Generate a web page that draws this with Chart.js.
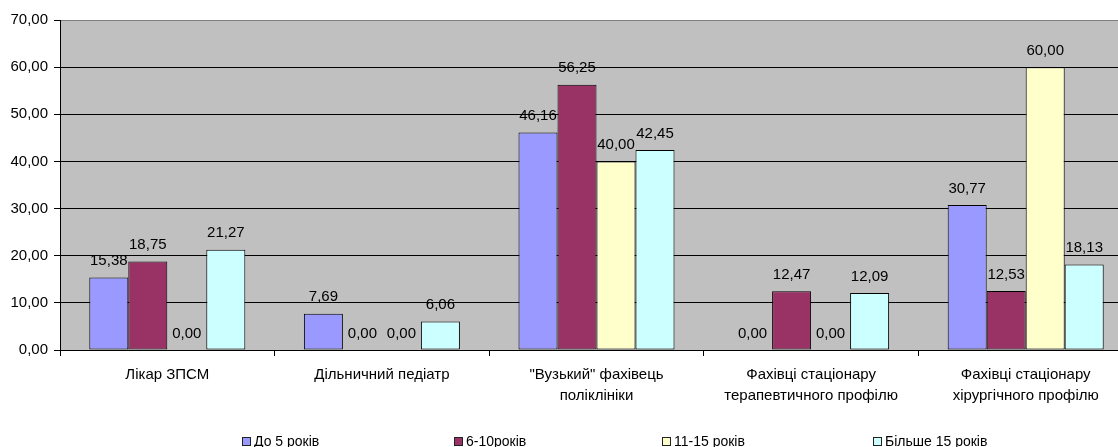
<!DOCTYPE html>
<html>
<head>
<meta charset="utf-8">
<script src="https://cdn.jsdelivr.net/npm/chart.js@4"></script>
<style>
  html, body { margin: 0; padding: 0; background: #fff; overflow: hidden; }
  #wrap { position: relative; width: 1118px; height: 447px; overflow: hidden; }
  #chart { position: absolute; left: 0; top: 0; }
  .lg { position: absolute; top: 433px; font: 14px "Liberation Sans", Arial, sans-serif; color: #000; white-space: nowrap; line-height: 16px; }
  .lg i { display: inline-block; width: 7px; height: 7px; border: 1px solid #222; margin-right: 3px; vertical-align: 0px; }
</style>
</head>
<body>
<div id="wrap">
  <canvas id="chart" width="1133" height="447"></canvas>
  <div id="legend"></div>
</div>
<script>
// Categories (multi-line labels as arrays)
const categories = [
  ['Лікар ЗПСМ'],
  ['Дільничний педіатр'],
  ['"Вузький" фахівець', 'поліклініки'],
  ['Фахівці стаціонару', 'терапевтичного профілю'],
  ['Фахівці стаціонару', 'хірургічного профілю']
];

const seriesNames = ['До 5 років', '6-10років', '11-15 років', 'Більше 15 років'];
const seriesColors = ['#9999FF', '#993366', '#FFFFCC', '#CCFFFF'];

const upTo5 = [15.38, 7.69, 46.16, 0.00, 30.77];
const y6to10 = [18.75, 0.00, 56.25, 12.47, 12.53];
const y11to15 = [0.00, 0.00, 40.00, 0.00, 60.00];
const over15 = [21.27, 6.06, 42.45, 12.09, 18.13];

const yTicks = [0, 10, 20, 30, 40, 50, 60, 70];

const seriesValues = [upTo5, y6to10, y11to15, over15];
const fmt = v => v.toFixed(2).replace('.', ',');
const FONT = '"Liberation Sans", Arial, sans-serif';

// Grey plot-area fill
const plotBackground = {
  id: 'plotBackground',
  beforeDraw(chart) {
    const { ctx, chartArea: a } = chart;
    ctx.save();
    ctx.fillStyle = '#C0C0C0';
    ctx.fillRect(a.left, a.top, a.right - a.left, a.bottom - a.top);
    ctx.restore();
  }
};

// Value labels above each bar
const valueLabels = {
  id: 'valueLabels',
  afterDatasetsDraw(chart) {
    const { ctx } = chart;
    ctx.save();
    ctx.font = '15px ' + FONT;
    ctx.fillStyle = '#000';
    ctx.textAlign = 'center';
    ctx.textBaseline = 'middle';
    chart.data.datasets.forEach((ds, di) => {
      chart.getDatasetMeta(di).data.forEach((bar, i) => {
        ctx.fillText(fmt(ds.data[i]), bar.x, bar.y - 16.5);
      });
    });
    ctx.restore();
  }
};

new Chart(document.getElementById('chart'), {
  type: 'bar',
  data: {
    labels: categories,
    datasets: seriesNames.map((name, i) => ({
      label: name,
      data: seriesValues[i],
      backgroundColor: seriesColors[i],
      borderColor: '#000',
      borderWidth: 1,
      borderSkipped: false,
      categoryPercentage: 0.727,
      barPercentage: 1.0
    }))
  },
  options: {
    responsive: false,
    animation: false,
    events: [],
    layout: { padding: { top: 20, right: 0, bottom: 0, left: 0 } },
    plugins: { legend: { display: false }, tooltip: { enabled: false } },
    scales: {
      x: {
        offset: true,
        afterFit(s) { s.height = 97; },
        grid: { offset: true, drawOnChartArea: false, drawTicks: true, tickLength: 6, color: '#000', tickColor: '#000' },
        border: { display: true, color: '#000', width: 1 },
        ticks: { color: '#000', padding: 8, font: { family: FONT, size: 15, lineHeight: 1.4 }, maxRotation: 0, autoSkip: false }
      },
      y: {
        min: yTicks[0],
        max: yTicks[yTicks.length - 1],
        afterFit(s) { s.width = 60; },
        afterBuildTicks(s) { s.ticks = yTicks.map(v => ({ value: v })); },
        grid: {
          color: c => (c.tick && c.tick.value === 70) ? '#808080' : '#000',
          tickColor: '#000',
          lineWidth: 1,
          tickLength: 6
        },
        border: { display: true, color: '#000', width: 1 },
        ticks: { color: '#000', padding: 6, font: { family: FONT, size: 15 }, callback: v => fmt(v) }
      }
    }
  },
  plugins: [plotBackground, valueLabels]
});

// Legend row
const legendX = [242, 454, 662, 873];
const legend = document.getElementById('legend');
seriesNames.forEach((name, i) => {
  const d = document.createElement('div');
  d.className = 'lg';
  d.style.left = legendX[i] + 'px';
  const box = document.createElement('i');
  box.style.background = seriesColors[i];
  d.appendChild(box);
  d.appendChild(document.createTextNode(name));
  legend.appendChild(d);
});
</script>
</body>
</html>
